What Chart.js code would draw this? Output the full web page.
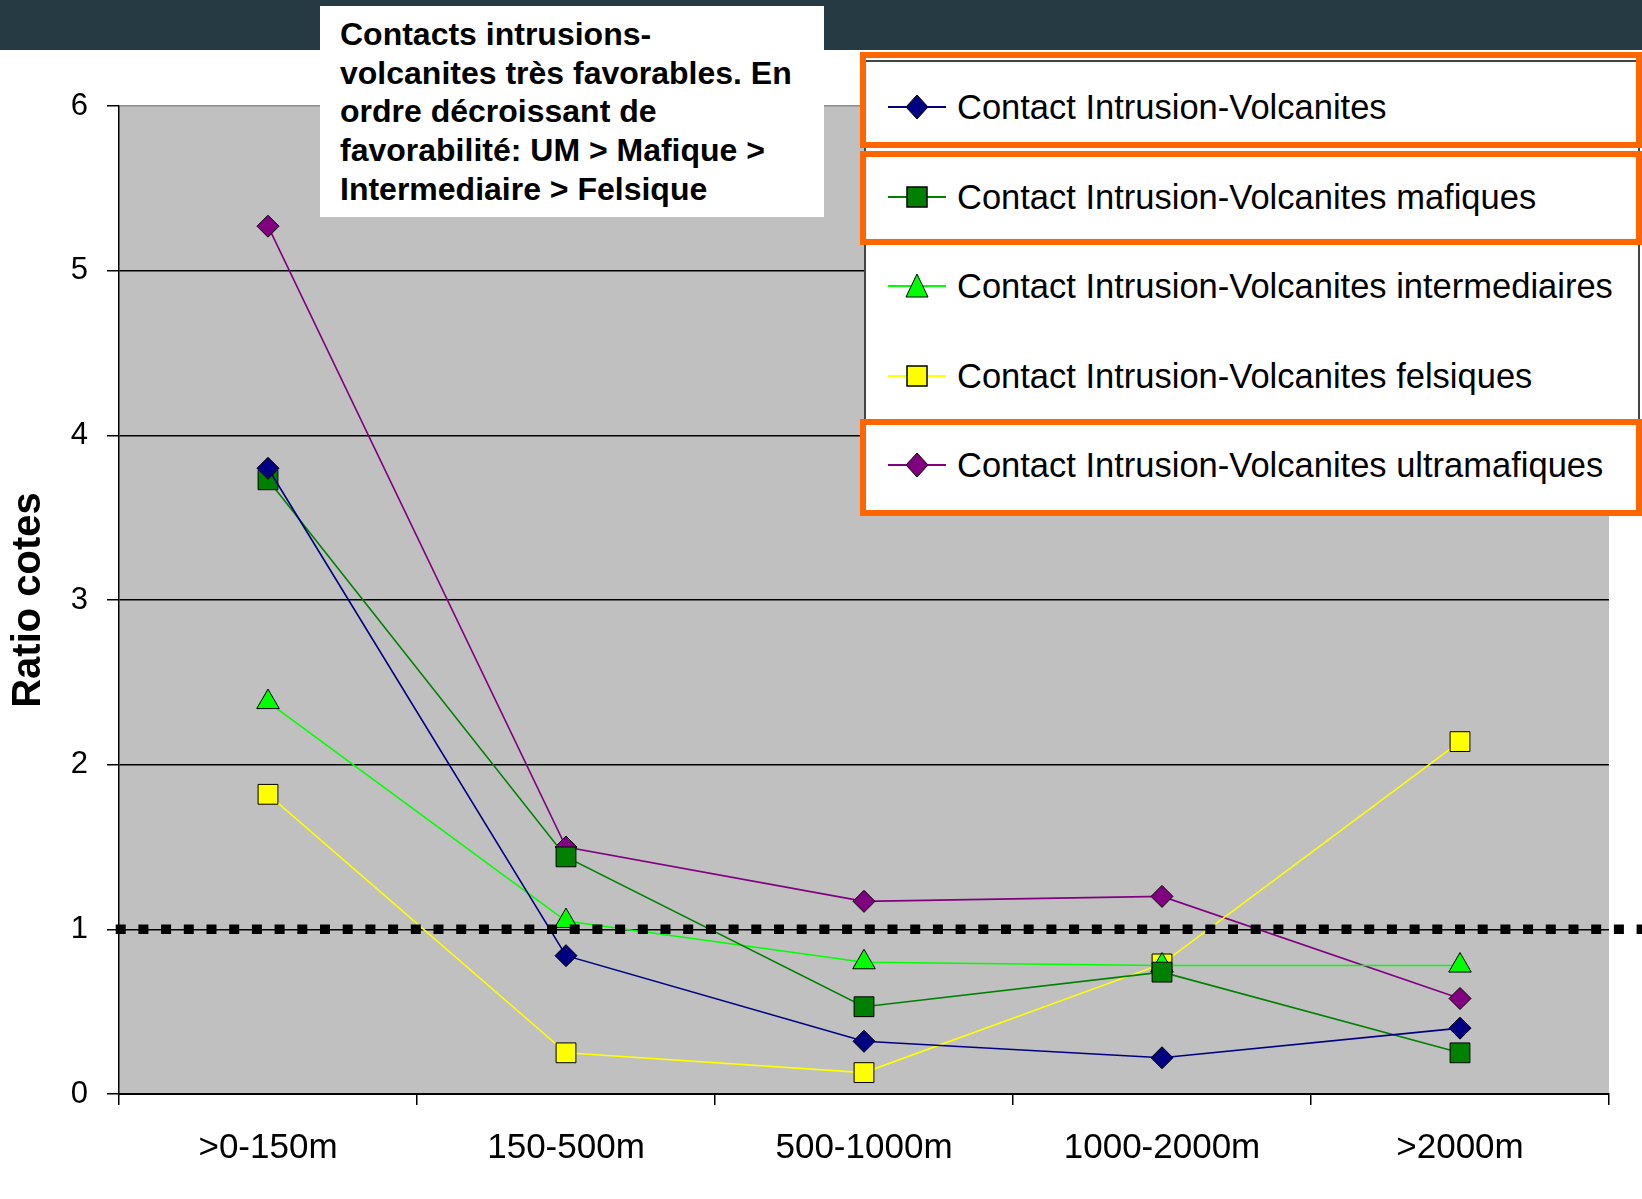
<!DOCTYPE html>
<html>
<head>
<meta charset="utf-8">
<script src="https://cdn.jsdelivr.net/npm/chart.js"></script>
<style>
body{margin:0;background:#fff;font-family:"Liberation Sans",Arial,sans-serif;}
#wrap{position:relative;width:1642px;height:1199px;overflow:hidden;}
#band{position:absolute;left:0;top:0;width:1642px;height:50px;background:#253a42;}
#chart{position:absolute;left:0;top:0;}
#note{position:absolute;left:320px;top:6px;width:484px;height:202px;padding:9px 0 0 20px;background:#fff;font-weight:bold;font-size:32px;line-height:38.7px;color:#000;white-space:nowrap;}
#legend{position:absolute;left:864px;top:60px;width:776px;height:456px;background:#fff;border:2px solid #444;box-sizing:border-box;}
.hl{position:absolute;left:860px;width:782px;border:6px solid #ff6600;box-sizing:border-box;}
.item{position:absolute;left:888px;height:40px;display:flex;align-items:center;font-size:34.5px;color:#000;white-space:nowrap;}
.item svg{margin-right:11px;}
</style>
</head>
<body>
<div id="wrap">
  <div id="band"></div>
  <canvas id="chart" width="1642" height="1199"></canvas>
  <div id="note">Contacts intrusions-<br>volcanites très favorables. En<br>ordre décroissant de<br>favorabilité: UM &gt; Mafique &gt;<br>Intermediaire &gt; Felsique</div>
  <div id="legend"></div>
  <div class="hl" style="top:52px;height:96px;"></div>
  <div class="hl" style="top:151px;height:94px;"></div>
  <div class="hl" style="top:419px;height:97px;"></div>
</div>
<script>
// categories and series
var categories = [">0-150m", "150-500m", "500-1000m", "1000-2000m", ">2000m"];
var volcanites     = [3.80, 0.84, 0.32, 0.22, 0.40];
var mafiques       = [3.73, 1.44, 0.53, 0.74, 0.25];
var intermediaires = [2.38, 1.05, 0.80, 0.78, 0.78];
var felsiques      = [1.82, 0.25, 0.13, 0.79, 2.14];
var ultramafiques  = [5.27, 1.50, 1.17, 1.20, 0.58];
var seriesNames = [
    "Contact Intrusion-Volcanites",
    "Contact Intrusion-Volcanites mafiques",
    "Contact Intrusion-Volcanites intermediaires",
    "Contact Intrusion-Volcanites felsiques",
    "Contact Intrusion-Volcanites ultramafiques"
];
var seriesColors = ["#000080", "#008000", "#00ff00", "#ffff00", "#800080"];
var seriesStyles = ["rectRot", "rect", "triangle", "rect", "rectRot"];
var seriesRadius = [11, 14, 13, 14, 11];
var yTicks = [0, 1, 2, 3, 4, 5, 6];
var refLevel = 1;

var seriesValues = [volcanites, mafiques, intermediaires, felsiques, ultramafiques];

// legend (html, built from the series arrays)
var legendCenters = [107, 197, 286, 376, 465];
var wrap = document.getElementById("wrap");
function markerSvg(i){
    var c = seriesColors[i], s = seriesStyles[i], shape;
    if (s === "rectRot") shape = '<polygon points="29,3 40,15 29,27 18,15" fill="'+c+'" stroke="#000" stroke-width="1"/>';
    else if (s === "rect") shape = '<rect x="19" y="5" width="20" height="20" fill="'+c+'" stroke="#000" stroke-width="1.5"/>';
    else shape = '<polygon points="29,3 40,26 18,26" fill="'+c+'" stroke="#000" stroke-width="1"/>';
    return '<svg width="58" height="30"><line x1="0" y1="15" x2="58" y2="15" stroke="'+c+'" stroke-width="2"/>'+shape+'</svg>';
}
for (var i = 0; i < seriesNames.length; i++) {
    var d = document.createElement("div");
    d.className = "item";
    d.style.top = (legendCenters[i] - 20) + "px";
    d.innerHTML = markerSvg(i) + "<span>" + seriesNames[i] + "</span>";
    wrap.appendChild(d);
}

//gray plot area
var plotBg = {
    id: "plotBg",
    beforeDraw: function(chart){
        var a = chart.chartArea, ctx = chart.ctx;
        ctx.save();
        ctx.fillStyle = "#c0c0c0";
        ctx.fillRect(a.left, a.top, a.right - a.left, a.bottom - a.top);
        ctx.restore();
    }
};

//thick dotted line at ratio 1
var refLine = {
    id: "refLine",
    afterDatasetsDraw: function(chart){
        var ctx = chart.ctx, y = chart.scales.y.getPixelForValue(refLevel);
        ctx.save();
        ctx.strokeStyle = "#000";
        ctx.lineWidth = 9.5;
        ctx.setLineDash([10, 12.7]);
        ctx.beginPath();
        ctx.moveTo(chart.chartArea.left - 3.3, y);
        ctx.lineTo(chart.width, y);
        ctx.stroke();
        ctx.restore();
    }
};

var datasets = seriesNames.map(function(name, i){
    return {
        label: name,
        data: seriesValues[i],
        borderColor: seriesColors[i],
        backgroundColor: seriesColors[i],
        pointBackgroundColor: seriesColors[i],
        pointBorderColor: "#000",
        pointBorderWidth: 1,
        pointStyle: seriesStyles[i],
        pointRadius: seriesRadius[i],
        borderWidth: 1.6,
        fill: false,
        tension: 0
    };
});

new Chart(document.getElementById("chart"), {
    type: "line",
    data: { labels: categories, datasets: datasets },
    options: {
        responsive: false,
        animation: false,
        layout: { padding: { top: 106, right: 33, left: 0, bottom: 0 } },
        plugins: { legend: { display: false }, tooltip: { enabled: false } },
        scales: {
            x: {
                offset: true,
                grid: { drawOnChartArea: false, offset: true, tickLength: 11, color: "#000", lineWidth: 1.5 },
                border: { color: "#000", width: 2 },
                ticks: { color: "#000", padding: 22, font: { family: "Liberation Sans", size: 35 } },
                afterFit: function(s){ s.height = 105; }
            },
            y: {
                min: 0,
                max: 6,
                afterBuildTicks: function(s){ s.ticks = yTicks.map(function(v){ return { value: v }; }); },
                grid: {
                    color: function(c){ return c.tick && c.tick.value === 6 ? "#8c8c8c" : "#000"; },
                    tickColor: "#000",
                    lineWidth: 1.5,
                    tickLength: 12
                },
                border: { color: "#000", width: 1.5 },
                ticks: { color: "#000", padding: 19, font: { family: "Liberation Sans", size: 31 } },
                title: {
                    display: true,
                    text: "Ratio cotes",
                    color: "#000",
                    padding: { top: 5, bottom: 0 },
                    font: { family: "Liberation Sans", size: 40, weight: "bold" }
                },
                afterFit: function(s){ s.width = 119; }
            }
        }
    },
    plugins: [plotBg, refLine]
});
</script>
</body>
</html>
